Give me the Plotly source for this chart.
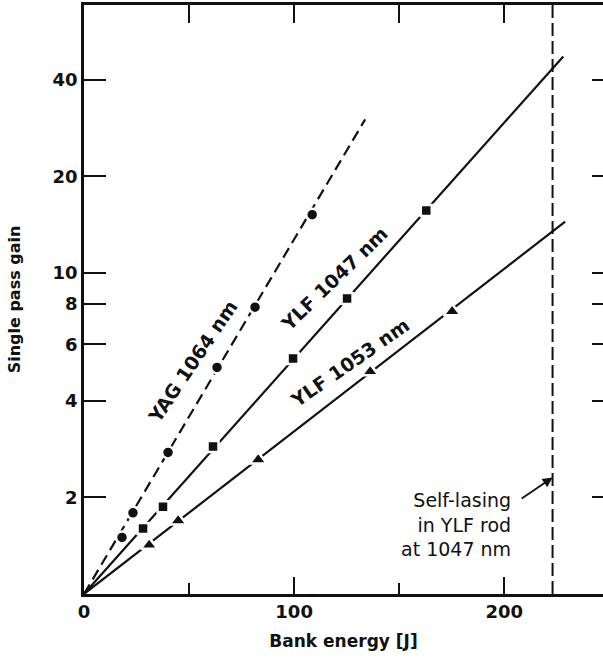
import plotly.graph_objects as go
import math

# ---- data ----
yag_energy = [18.1, 23.3, 40.0, 63.3, 81.4, 108.6]
yag_gain = [1.50, 1.79, 2.76, 5.08, 7.83, 15.2]
yag_fit_energy = [0, 133.8]
yag_fit_gain = [1.0, 30.1]

ylf1047_energy = [28.1, 37.6, 61.4, 99.5, 125.2, 162.9]
ylf1047_gain = [1.60, 1.87, 2.88, 5.42, 8.33, 15.66]
ylf1047_fit_energy = [0, 228.1]
ylf1047_fit_gain = [1.0, 47.3]

ylf1053_energy = [31.0, 44.8, 82.9, 136.2, 175.2]
ylf1053_gain = [1.42, 1.69, 2.62, 4.93, 7.59]
ylf1053_fit_energy = [0, 229.0]
ylf1053_fit_gain = [1.0, 14.46]

self_lasing_energy = 223.0

x_range = [0, 247]
y_range = [1.0, 68.4]
x_major_ticks = [0, 100, 200]
x_minor_ticks = [50, 150]
x_top_ticks = [50, 100, 150, 200]
y_ticks = [2, 4, 6, 8, 10, 20, 40]

FONT = "DejaVu Sans, sans-serif"
BLACK = "#111111"

fig = go.Figure()

# fitted lines
fig.add_trace(go.Scatter(x=yag_fit_energy, y=yag_fit_gain, mode="lines",
                         line=dict(color=BLACK, width=2.2, dash="11px,6px"), hoverinfo="skip"))
fig.add_trace(go.Scatter(x=ylf1047_fit_energy, y=ylf1047_fit_gain, mode="lines",
                         line=dict(color=BLACK, width=2.2), hoverinfo="skip"))
fig.add_trace(go.Scatter(x=ylf1053_fit_energy, y=ylf1053_fit_gain, mode="lines",
                         line=dict(color=BLACK, width=2.2), hoverinfo="skip"))

# self-lasing vertical dashed line (on the mirrored top/right axes so they get drawn;
# the ranges are identical to the main axes)
fig.add_trace(go.Scatter(x=[self_lasing_energy, self_lasing_energy], y=y_range, mode="lines",
                         xaxis="x2", yaxis="y2",
                         line=dict(color=BLACK, width=2, dash="13px,5px"), hoverinfo="skip"))

# measured points (white outline gives gaps in the lines like the original)
fig.add_trace(go.Scatter(x=yag_energy, y=yag_gain, mode="markers",
                         marker=dict(symbol="circle", size=12, color=BLACK,
                                     line=dict(color="white", width=2.5))))
fig.add_trace(go.Scatter(x=ylf1047_energy, y=ylf1047_gain, mode="markers",
                         marker=dict(symbol="square", size=11, color=BLACK,
                                     line=dict(color="white", width=2.5))))
fig.add_trace(go.Scatter(x=ylf1053_energy, y=ylf1053_gain, mode="markers",
                         marker=dict(symbol="triangle-up", size=15, color=BLACK,
                                     line=dict(color="white", width=2.5))))

label_font = dict(family=FONT, size=19, color=BLACK, weight="bold")
anns = [
    dict(x=51.4, y=0.724, text="YAG 1064 nm", textangle=-56),
    dict(x=119.0, y=0.980, text="YLF 1047 nm", textangle=-44),
    dict(x=126.2, y=0.721, text="YLF 1053 nm", textangle=-35),
]
for a in anns:
    fig.add_annotation(xref="x", yref="y", showarrow=False, xanchor="center", yanchor="middle",
                       font=label_font, **a)

fig.add_annotation(xref="x", yref="y", x=204.0, y=0.2165, xanchor="right", yanchor="middle",
                   align="right", showarrow=False,
                   text="Self-lasing<br>in YLF rod<br>at 1047 nm",
                   font=dict(family=FONT, size=19, color=BLACK))
fig.add_annotation(xref="x", yref="y", axref="x", ayref="y",
                   x=223.0, y=0.363, ax=207.6, ay=0.294, text="",
                   showarrow=True, arrowhead=2, arrowsize=1.1, arrowwidth=1.8, arrowcolor=BLACK)

fig.update_layout(
    width=603, height=661,
    margin=dict(l=84, r=0, t=5, b=67),
    paper_bgcolor="white", plot_bgcolor="white",
    showlegend=False,
    font=dict(family=FONT, color=BLACK),
    xaxis=dict(range=x_range, tickvals=x_major_ticks, ticktext=[str(v) for v in x_major_ticks],
               ticks="inside", ticklen=17, tickwidth=2, tickcolor=BLACK,
               minor=dict(tickvals=x_minor_ticks, ticks="inside", ticklen=11, tickwidth=2, tickcolor=BLACK),
               showline=True, linewidth=2.5, linecolor=BLACK, showgrid=False, zeroline=False,
               tickfont=dict(family=FONT, size=18, color=BLACK, weight="bold"),
               title=dict(text="Bank energy [J]", standoff=14,
                          font=dict(family=FONT, size=17, color=BLACK, weight="bold"))),
    xaxis2=dict(range=x_range, overlaying="x", side="top", tickvals=x_top_ticks,
                ticks="inside", ticklen=18, tickwidth=2, tickcolor=BLACK,
                showticklabels=False, showline=True, linewidth=2.5, linecolor=BLACK,
                showgrid=False, zeroline=False),
    yaxis=dict(type="log", range=[math.log10(y_range[0]), math.log10(y_range[1])],
               tickvals=y_ticks, ticktext=[str(v) for v in y_ticks],
               ticks="inside", ticklen=22, tickwidth=2, tickcolor=BLACK,
               showline=True, linewidth=2.5, linecolor=BLACK, showgrid=False, zeroline=False,
               tickfont=dict(family=FONT, size=18, color=BLACK, weight="bold"),
               title=dict(text="Single pass gain", standoff=28,
                          font=dict(family=FONT, size=16, color=BLACK, weight="bold"))),
    yaxis2=dict(type="log", range=[math.log10(y_range[0]), math.log10(y_range[1])],
                overlaying="y", side="right", tickvals=y_ticks,
                ticks="inside", ticklen=11, tickwidth=2, tickcolor=BLACK,
                showticklabels=False, showline=False, showgrid=False, zeroline=False),
)

fig.write_html("out.html", config={"displayModeBar": False},
               post_script="document.body.style.margin='0';document.documentElement.style.overflow='hidden';")
